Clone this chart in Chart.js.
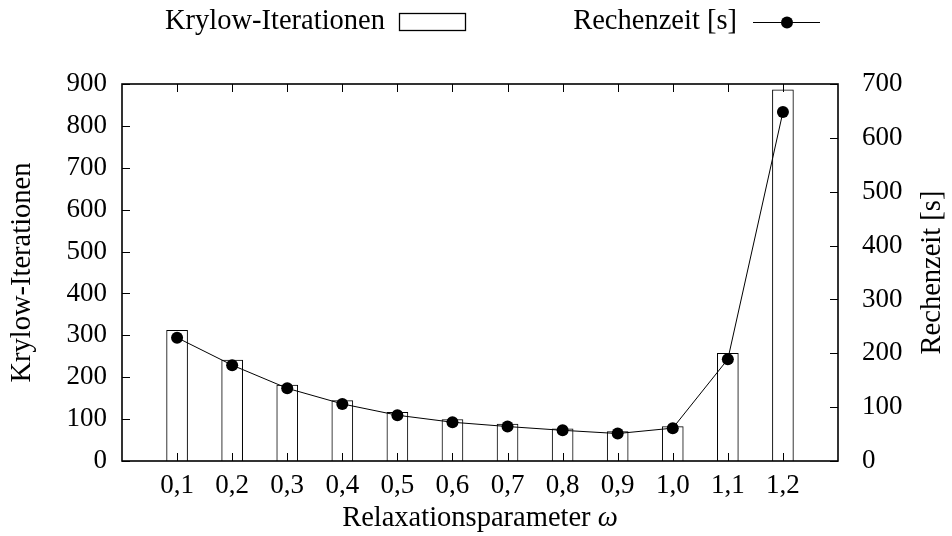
<!DOCTYPE html>
<html>
<head>
<meta charset="utf-8">
<script src="https://cdn.jsdelivr.net/npm/chart.js@4.4.0/dist/chart.umd.min.js"></script>
<style>
  html, body { margin: 0; padding: 0; background: #fff; }
  canvas { display: block; }
</style>
</head>
<body>
<canvas id="c" width="952" height="536"></canvas>
<script>
// ---- data ----
const omegaValues = [0.1, 0.2, 0.3, 0.4, 0.5, 0.6, 0.7, 0.8, 0.9, 1.0, 1.1, 1.2];
const omegaTickLabels = ['0,1', '0,2', '0,3', '0,4', '0,5', '0,6', '0,7', '0,8', '0,9', '1,0', '1,1', '1,2'];
const krylowIterations = [312, 241, 181, 144, 116, 99, 88, 77, 70, 82, 257, 886];
const rechenzeit = [229, 178, 135, 106, 85, 72, 64, 57, 51, 61, 189, 648];
const seriesLabels = ['Krylow-Iterationen', 'Rechenzeit [s]'];
const xTitle = 'Relaxationsparameter ';
const xTitleSymbol = 'ω';
const yTitle = 'Krylow-Iterationen';
const y2Title = 'Rechenzeit [s]';

const FONT_FAMILY = "'Liberation Serif', 'Times New Roman', serif";
const FONT_SIZE = 27;
const TITLE_SIZE = 28.5;
const fontStr = (style) => (style ? style + ' ' : '') + TITLE_SIZE + 'px ' + FONT_FAMILY;

const decorPlugin = {
  id: 'decor',
  afterDatasetsDraw(chart) {
    const ctx = chart.ctx;
    const a = chart.chartArea;
    const sx = chart.scales.x, sy = chart.scales.y, sy2 = chart.scales.y1;
    const TL = 8;
    ctx.save();
    ctx.strokeStyle = '#000';
    ctx.lineWidth = 1;
    // tick marks (inward)
    ctx.beginPath();
    sx.ticks.forEach(t => {
      const px = Math.round(sx.getPixelForValue(t.value)) + 0.5;
      ctx.moveTo(px, a.bottom); ctx.lineTo(px, a.bottom - TL);
      ctx.moveTo(px, a.top); ctx.lineTo(px, a.top + TL);
    });
    sy.ticks.forEach(t => {
      const py = Math.round(sy.getPixelForValue(t.value)) + 0.5;
      ctx.moveTo(a.left, py); ctx.lineTo(a.left + TL, py);
    });
    sy2.ticks.forEach(t => {
      const py = Math.round(sy2.getPixelForValue(t.value)) + 0.5;
      ctx.moveTo(a.right, py); ctx.lineTo(a.right - TL, py);
    });
    ctx.stroke();
    // frame
    ctx.lineWidth = 1.6;
    ctx.strokeRect(a.left, a.top, a.right - a.left, a.bottom - a.top);

    // axis titles
    ctx.fillStyle = '#000';
    ctx.textBaseline = 'middle';
    const cx = (a.left + a.right) / 2;
    const cy = (a.top + a.bottom) / 2;
    ctx.font = fontStr();
    const w1 = ctx.measureText(xTitle).width;
    ctx.font = fontStr('italic');
    const w2 = ctx.measureText(xTitleSymbol).width;
    let x0 = cx - (w1 + w2) / 2;
    ctx.textAlign = 'left';
    ctx.font = fontStr();
    ctx.fillText(xTitle, x0, a.bottom + 58);
    ctx.font = fontStr('italic');
    ctx.fillText(xTitleSymbol, x0 + w1, a.bottom + 58);

    ctx.font = fontStr();
    ctx.textAlign = 'center';
    ctx.save();
    ctx.translate(23, cy);
    ctx.rotate(-Math.PI / 2);
    ctx.fillText(yTitle, 0, 0);
    ctx.restore();
    ctx.save();
    ctx.translate(chart.width - 19, cy);
    ctx.rotate(-Math.PI / 2);
    ctx.fillText(y2Title, 0, 0);
    ctx.restore();

    // legend
    const ly = 22;
    ctx.textAlign = 'right';
    ctx.fillText(chart.data.datasets[0].label, 385, ly);
    ctx.lineWidth = 1.3;
    ctx.strokeRect(399.5, 13.5, 66, 17);
    ctx.fillText(chart.data.datasets[1].label, 737, ly);
    ctx.lineWidth = 1;
    ctx.beginPath();
    ctx.moveTo(753, ly + 0.5); ctx.lineTo(820, ly + 0.5);
    ctx.stroke();
    ctx.beginPath();
    ctx.arc(787, ly + 0.5, 6, 0, Math.PI * 2);
    ctx.fill();
    ctx.restore();
  }
};

new Chart(document.getElementById('c'), {
  type: 'bar',
  data: {
    datasets: [
      {
        type: 'bar',
        label: seriesLabels[0],
        data: omegaValues.map((x, i) => ({ x: x, y: krylowIterations[i] })),
        backgroundColor: '#ffffff',
        borderColor: '#000000',
        borderWidth: 1,
        barThickness: 21,
        yAxisID: 'y',
        order: 2
      },
      {
        type: 'line',
        label: seriesLabels[1],
        data: omegaValues.map((x, i) => ({ x: x, y: rechenzeit[i] })),
        borderColor: '#000000',
        borderWidth: 1,
        pointRadius: 6,
        pointBackgroundColor: '#000000',
        pointBorderWidth: 0,
        tension: 0,
        fill: false,
        yAxisID: 'y1',
        order: 1
      }
    ]
  },
  options: {
    responsive: false,
    animation: false,
    layout: { padding: { top: 84, left: 0, right: 0, bottom: 0 } },
    plugins: { legend: { display: false }, tooltip: { enabled: false } },
    scales: {
      x: {
        type: 'linear',
        min: 0,
        max: 1.3,
        offset: false,
        grid: { display: false, drawTicks: false },
        border: { display: false },
        afterBuildTicks: (s) => { s.ticks = omegaValues.map(v => ({ value: v })); },
        afterFit: (s) => { s.height = 75; },
        ticks: {
          autoSkip: false,
          maxRotation: 0,
          padding: 9,
          color: '#000',
          font: { family: FONT_FAMILY, size: FONT_SIZE },
          callback: (v, i) => omegaTickLabels[i]
        }
      },
      y: {
        position: 'left',
        min: 0,
        max: 900,
        grid: { display: false, drawTicks: false },
        border: { display: false },
        afterFit: (s) => { s.width = 122; },
        ticks: {
          stepSize: 100,
          padding: 15,
          color: '#000',
          font: { family: FONT_FAMILY, size: FONT_SIZE }
        }
      },
      y1: {
        position: 'right',
        min: 0,
        max: 700,
        grid: { display: false, drawTicks: false },
        border: { display: false },
        afterFit: (s) => { s.width = 114; },
        ticks: {
          stepSize: 100,
          padding: 24,
          color: '#000',
          font: { family: FONT_FAMILY, size: FONT_SIZE }
        }
      }
    }
  },
  plugins: [decorPlugin]
});
</script>
</body>
</html>
